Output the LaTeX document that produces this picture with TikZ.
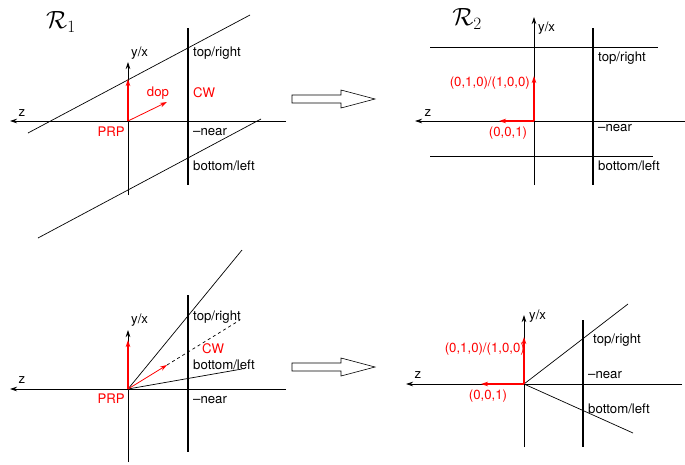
\documentclass[tikz,border=0pt]{standalone}
\usepackage{fontspec}
\setsansfont{TeX Gyre Heros}
\usetikzlibrary{arrows.meta}

\begin{document}
\begin{tikzpicture}[x=1pt,y=-1pt,
			lbl/.style={font=\sffamily\fontsize{13.2}{15}\selectfont, inner sep=0pt},
			redlbl/.style={lbl, text=red},
			title/.style={font=\fontsize{25}{29}\selectfont, inner sep=0pt},
			axis/.style={-{Stealth[length=7pt,width=4.5pt]}, line width=0.7pt},
			vec/.style={-{Stealth[length=7pt,width=4.5pt]}, red, line width=1.3pt},
			dop/.style={-{Stealth[length=7pt,width=4.5pt]}, red, line width=0.8pt},
			cw/.style={line width=2pt},
			ray/.style={line width=0.7pt},
			bigarrow/.style={draw, line width=0.6pt}]
			\useasboundingbox (0,0) rectangle (685,464);
			
			\node[title] (r1) at (61,22) {$\mathcal{R}_1$};
			\coordinate (prp1) at (128,121);
			\coordinate (ze1) at (286,121);
			\coordinate (z1) at (10,121);
			\coordinate (yb1) at (128,195);
			\coordinate (y1) at (128,62);
			\coordinate (cwt1) at (188,28);
			\coordinate (cwb1) at (188,185);
			\coordinate (ta1) at (28,133);
			\coordinate (tb1) at (250,15);
			\coordinate (ba1) at (38,238);
			\coordinate (bb1) at (261,119);
			\coordinate (up1) at (128,79);
			\coordinate (dop1) at (167,102);
			\draw[axis] (ze1) to (z1);
			\draw[axis] (yb1) to (y1);
			\draw[cw] (cwt1) to (cwb1);
			\draw[ray] (ta1) to (tb1);
			\draw[ray] (ba1) to (bb1);
			\draw[vec] (prp1) to (up1);
			\draw[dop] (prp1) to (dop1);
			\node[lbl] (zl1) at (22,113) {z};
			\node[lbl, anchor=west] (yl1) at (131,53) {y/x};
			\node[redlbl] (dopl1) at (158,93) {dop};
			\node[redlbl, anchor=west] (cwl1) at (193,93) {CW};
			\node[redlbl, anchor=east] (prpl1) at (125,132) {PRP};
			\node[lbl, anchor=west] (top1) at (193,53) {top/right};
			\node[lbl, anchor=west] (near1) at (193,132) {--near};
			\node[lbl, anchor=west] (bot1) at (193,166) {bottom/left};
			
			\node[title] (r2) at (467,19) {$\mathcal{R}_2$};
			\coordinate (o2) at (534,121);
			\coordinate (ze2) at (685,121);
			\coordinate (z2) at (415,121);
			\coordinate (yb2) at (534,185);
			\coordinate (y2) at (534,17);
			\coordinate (cwt2) at (593,28);
			\coordinate (cwb2) at (593,185);
			\coordinate (ta2) at (430,47);
			\coordinate (tb2) at (658,47);
			\coordinate (ba2) at (430,156);
			\coordinate (bb2) at (653,156);
			\coordinate (up2) at (534,76);
			\coordinate (zv2) at (499,121);
			\draw[axis] (ze2) to (z2);
			\draw[axis] (yb2) to (y2);
			\draw[cw] (cwt2) to (cwb2);
			\draw[ray] (ta2) to (tb2);
			\draw[ray] (ba2) to (bb2);
			\draw[vec] (o2) to (up2);
			\draw[vec] (o2) to (zv2);
			\node[lbl] (zl2) at (428,113) {z};
			\node[lbl, anchor=west] (yl2) at (538,28) {y/x};
			\node[redlbl, anchor=east] (upl2) at (530,83) {(0,1,0)/(1,0,0)};
			\node[redlbl] (zvl2) at (508,133) {(0,0,1)};
			\node[lbl, anchor=west] (top2) at (598,58) {top/right};
			\node[lbl, anchor=west] (near2) at (598,128) {--near};
			\node[lbl, anchor=west] (bot2) at (598,166) {bottom/left};
			
			\coordinate (prp3) at (128,389);
			\coordinate (ze3) at (286,389);
			\coordinate (z3) at (10,389);
			\coordinate (yb3) at (128,462);
			\coordinate (y3) at (128,330);
			\coordinate (cwt3) at (188,295);
			\coordinate (cwb3) at (188,452);
			\coordinate (tb3) at (242,250);
			\coordinate (bb3) at (242,369);
			\coordinate (db3) at (240,320);
			\coordinate (up3) at (128,340);
			\coordinate (dop3) at (167,365);
			\draw[axis] (ze3) to (z3);
			\draw[axis] (yb3) to (y3);
			\draw[cw] (cwt3) to (cwb3);
			\draw[ray] (prp3) to (tb3);
			\draw[ray] (prp3) to (bb3);
			\draw[ray, dashed] (dop3) to (db3);
			\draw[vec] (prp3) to (up3);
			\draw[dop] (prp3) to (dop3);
			\node[lbl] (zl3) at (22,380) {z};
			\node[lbl, anchor=west] (yl3) at (131,320) {y/x};
			\node[redlbl, anchor=west] (cwl3) at (202,349) {CW};
			\node[redlbl, anchor=east] (prpl3) at (125,399) {PRP};
			\node[lbl, anchor=west] (top3) at (193,317) {top/right};
			\node[lbl, anchor=west] (bot3) at (193,365) {bottom/left};
			\node[lbl, anchor=west] (near3) at (193,400) {--near};
			
			\coordinate (o4) at (524,384);
			\coordinate (ze4) at (682,384);
			\coordinate (z4) at (406,384);
			\coordinate (yb4) at (524,447);
			\coordinate (y4) at (524,315);
			\coordinate (cwt4) at (583,320);
			\coordinate (cwb4) at (583,447);
			\coordinate (tb4) at (628,304);
			\coordinate (bb4) at (633,433);
			\coordinate (up4) at (524,337);
			\coordinate (zv4) at (481,384);
			\draw[axis] (ze4) to (z4);
			\draw[axis] (yb4) to (y4);
			\draw[cw] (cwt4) to (cwb4);
			\draw[ray] (o4) to (tb4);
			\draw[ray] (o4) to (bb4);
			\draw[vec] (o4) to (up4);
			\draw[vec] (o4) to (zv4);
			\node[lbl] (zl4) at (418,375) {z};
			\node[lbl, anchor=west] (yl4) at (529,316) {y/x};
			\node[redlbl, anchor=east] (upl4) at (525,349) {(0,1,0)/(1,0,0)};
			\node[redlbl] (zvl4) at (488,396) {(0,0,1)};
			\node[lbl, anchor=west] (top4) at (593,340) {top/right};
			\node[lbl, anchor=west] (near4) at (588,375) {--near};
			\node[lbl, anchor=west] (bot4) at (588,409) {bottom/left};
			
			\draw[bigarrow] (292,95) -- (341,95) -- (341,90) -- (375,99) -- (341,108) -- (341,103) -- (292,103) -- cycle;
			\draw[bigarrow] (292,363) -- (341,363) -- (341,358) -- (375,367) -- (341,376) -- (341,371) -- (292,371) -- cycle;
		\end{tikzpicture}
\end{document}
